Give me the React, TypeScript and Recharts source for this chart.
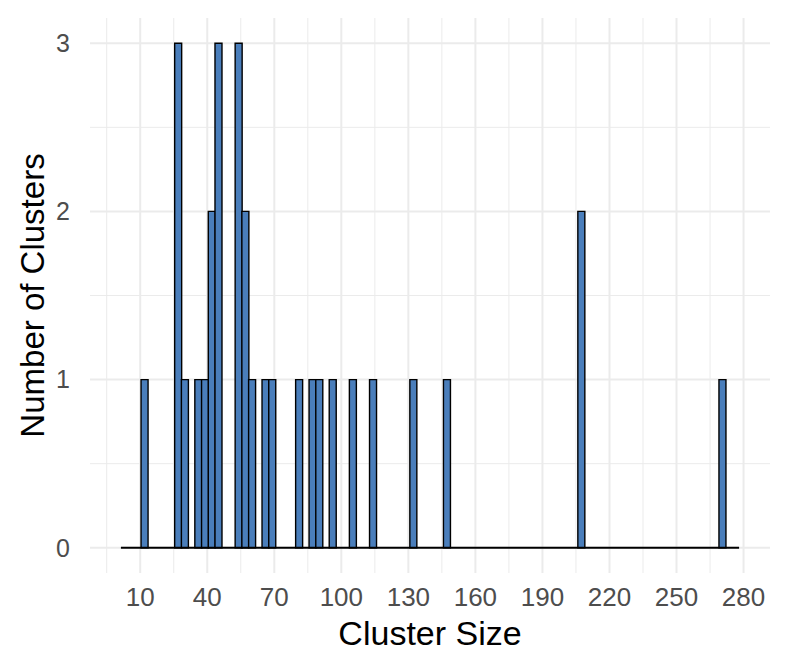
import { BarChart, Bar, XAxis, YAxis, CartesianGrid, ReferenceLine } from "recharts";

// histogram of cluster sizes: centres of the non-empty bins (bin width ~3) and their counts
const clusterSize = [
  11.88, 26.92, 29.93, 35.94, 38.95, 41.96, 44.96, 53.98, 56.99, 60.0, 66.01,
  69.02, 81.05, 87.06, 90.07, 96.08, 105.1, 114.12, 132.16, 147.2, 207.34, 270.49,
];
const clusterCount = [1, 3, 1, 1, 1, 2, 3, 3, 2, 1, 1, 1, 1, 1, 1, 1, 1, 1, 1, 1, 2, 1];

// outer edges of the binned range (empty bins are drawn as a flat line)
const binRange = [1.36, 278.0];

const xTicks = [10, 40, 70, 100, 130, 160, 190, 220, 250, 280];
const xMinorTicks = [-5, 25, 55, 85, 115, 145, 175, 205, 235, 265];
const yTicks = [0, 1, 2, 3];
const yMinorTicks = [0.5, 1.5, 2.5];

const data = clusterSize.map((size, i) => ({ size, count: clusterCount[i] }));

// ggplot-style 5% expansion
const xPad = (binRange[1] - binRange[0]) * 0.05;
const xDomain = [binRange[0] - xPad, binRange[1] + xPad];
const yDomain = [-0.15, 3.15];

const FONT = '"Liberation Sans", Arial, sans-serif';

export default function App() {
  return (
    <div style={{ position: "absolute", left: 0, top: 0, background: "#fff" }}>
      <BarChart
        width={793}
        height={671}
        data={data}
        margin={{ top: 18, right: 23, bottom: 0, left: 0 }}
        barCategoryGap={0}
        barGap={0}
        style={{ fontFamily: FONT }}
      >
        <CartesianGrid xAxisId="minor" yAxisId="minor" stroke="#EBEBEB" strokeWidth={1} syncWithTicks />
        <CartesianGrid stroke="#EBEBEB" strokeWidth={2} syncWithTicks />
        <XAxis
          xAxisId="minor"
          type="number"
          dataKey="size"
          domain={xDomain}
          ticks={xMinorTicks}
          allowDataOverflow
          hide
        />
        <YAxis yAxisId="minor" type="number" domain={yDomain} ticks={yMinorTicks} allowDataOverflow hide />
        <XAxis
          type="number"
          dataKey="size"
          domain={xDomain}
          ticks={xTicks}
          interval={0}
          allowDataOverflow
          height={98}
          tickLine={false}
          axisLine={false}
          tickSize={0}
          tickMargin={15}
          tick={{ fontSize: 26, fill: "#4D4D4D" }}
          label={{
            value: "Cluster Size",
            position: "insideBottom",
            offset: 26,
            style: { fontSize: 34, fill: "#000", textAnchor: "middle" },
          }}
        />
        <YAxis
          type="number"
          domain={yDomain}
          ticks={yTicks}
          interval={0}
          allowDataOverflow
          width={90}
          tickLine={false}
          axisLine={false}
          tickSize={0}
          tickMargin={20}
          tick={{ fontSize: 25, fill: "#4D4D4D" }}
          label={{
            value: "Number of Clusters",
            angle: -90,
            position: "insideLeft",
            offset: 32,
            style: { fontSize: 33, fill: "#000", textAnchor: "middle" },
          }}
        />
        <Bar dataKey="count" fill="#4A7EBB" stroke="#000" strokeWidth={1.4} isAnimationActive={false} />
        <ReferenceLine
          segment={[
            { x: binRange[0], y: 0 },
            { x: binRange[1], y: 0 },
          ]}
          stroke="#000"
          strokeWidth={1.8}
        />
      </BarChart>
    </div>
  );
}
